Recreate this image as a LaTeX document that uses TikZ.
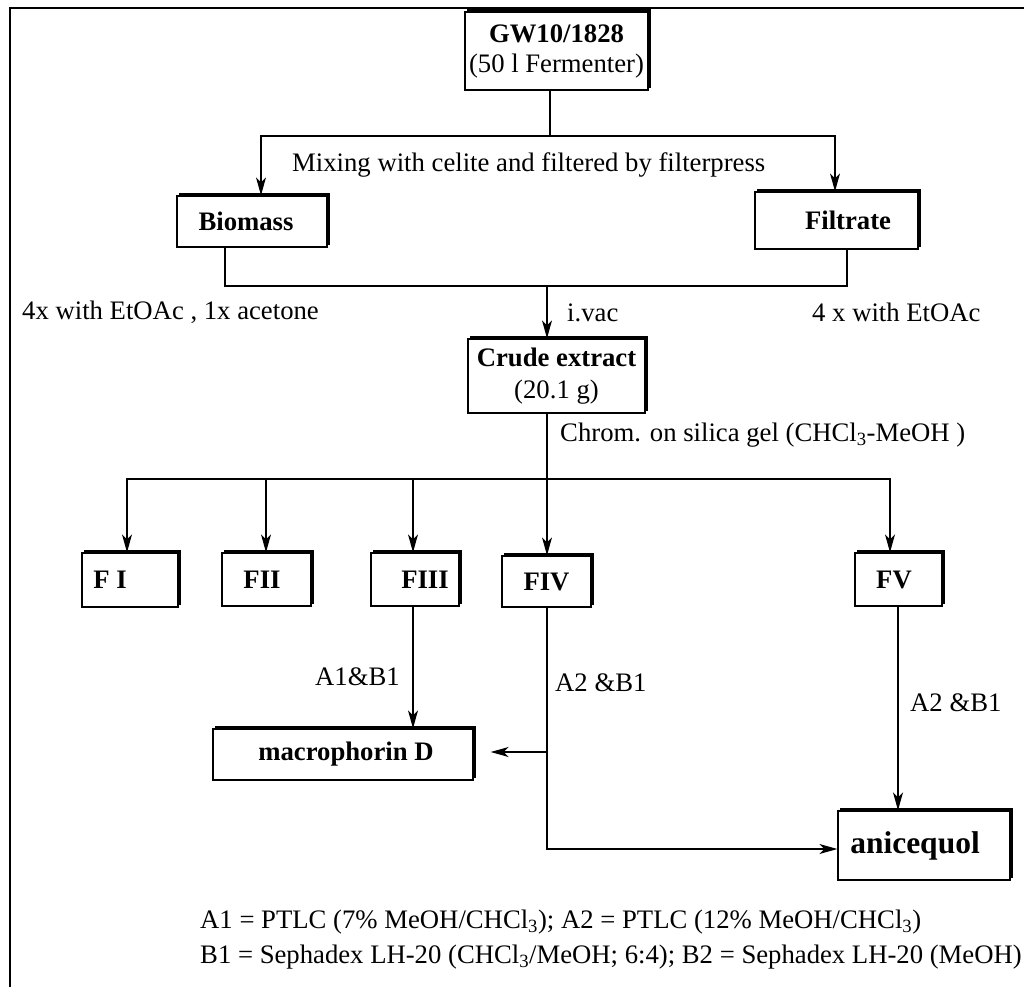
\documentclass[tikz,border=0pt]{standalone}
\usepackage{fontspec}
\setmainfont{Liberation Serif}
\usetikzlibrary{arrows.meta}
\begin{document}
\begin{tikzpicture}[x=1pt,y=-1pt,
  every node/.style={font=\fontsize{26.7}{31}\selectfont, inner sep=0pt},
  box/.style={draw, line width=1.3pt, font=\fontsize{26.7}{30}\selectfont\bfseries, align=center},
  conn/.style={line width=1.3pt},
  arr/.style={conn, -{Stealth[length=18pt,width=10pt,inset=5pt]}},
  lbl/.style={anchor=west},
  shadowline/.style={line width=3pt}
]
\useasboundingbox (0,0) rectangle (1024,987);
% frame
\draw[line width=2.5pt] (10,987) -- (10,8) -- (1024,8);

% boxes
\node[box, minimum width=183pt, minimum height=78pt] (gw) at (556.5,51) {GW10/1828\\{\mdseries (50 l Fermenter)}};
\node[box, minimum width=150pt, minimum height=51pt] (biomass) at (252,221.5) {Biomass\hspace*{12pt}};
\node[box, minimum width=163pt, minimum height=57pt] (filtrate) at (836.5,220.5) {\hspace*{23pt}Filtrate};
\node[box, minimum width=177pt, minimum height=74pt] (crude) at (556.5,376) {Crude extract\\[2pt]{\mdseries (20.1 g)}};
\node[box, minimum width=96pt, minimum height=54pt] (f1) at (130,580) {F I\hspace*{40pt}};
\node[box, minimum width=89pt, minimum height=53pt] (f2) at (266.5,579.5) {FII\hspace*{9pt}};
\node[box, minimum width=88pt, minimum height=53pt] (f3) at (415,579.5) {\hspace*{20pt}FIII};
\node[box, minimum width=89pt, minimum height=51pt] (f4) at (546.5,581.5) {FIV};
\node[box, minimum width=87pt, minimum height=53pt] (f5) at (898.5,579.5) {FV\hspace*{9pt}};
\node[box, minimum width=260pt, minimum height=51pt] (macro) at (343,754.5) {\hspace*{6pt}macrophorin D};
\node[box, minimum width=172pt, minimum height=69pt, font=\fontsize{31.5}{34}\selectfont\bfseries] (anice) at (924,845.5) {anicequol\hspace*{18pt}};

% shadows on top and right edges
\foreach \n in {gw,biomass,filtrate,crude,f1,f2,f3,f4,f5,macro,anice}
  \draw[shadowline] ([xshift=3pt,yshift=1pt]\n.north west) -- ([xshift=1pt,yshift=1pt]\n.north east) -- ([xshift=1pt,yshift=3pt]\n.south east);

% connectors
\coordinate (j1) at (550,136);
\draw[conn] ([xshift=-6.5pt]gw.south) -- (j1);
\draw[arr] (j1) -| ([xshift=9pt]biomass.north);
\draw[arr] (j1) -| ([xshift=-1.5pt]filtrate.north);

\coordinate (j2) at (547,286);
\draw[conn] ([xshift=-27pt]biomass.south) |- (j2);
\draw[conn] ([xshift=10.5pt]filtrate.south) |- (j2);
\draw[arr] (j2) -- ([xshift=-9.5pt]crude.north);

\coordinate (j3) at (547,479);
\draw[conn] ([xshift=-9.5pt]crude.south) -- (j3);
\draw[arr] (j3) -| ([xshift=-3pt]f1.north);
\draw[arr] (j3) -| ([xshift=-0.5pt]f2.north);
\draw[arr] (j3) -| ([xshift=-2pt]f3.north);
\draw[arr] (j3) -- ([xshift=0.5pt]f4.north);
\draw[arr] (j3) -| ([xshift=-8.5pt]f5.north);

\draw[arr] ([xshift=-2pt]f3.south) -- ([xshift=70pt]macro.north);
\coordinate (j4) at (547,752);
\draw[conn] ([xshift=0.5pt]f4.south) -- (j4);
\draw[arr, shorten >=17pt] (j4) -- (macro.east |- j4);
\draw[arr] (j4) |- ([yshift=-3.5pt]anice.west);
\draw[arr] ([xshift=-0.5pt]f5.south) -- ([xshift=-26pt]anice.north);

% labels
\node[lbl] (mix) at (292,165) {Mixing with celite and filtered by filterpress};
\node[lbl] (bioext) at (22,312) {4x with EtOAc , 1x acetone};
\node[lbl] (filext) at (812,312) {4 x with EtOAc};
\node[lbl] (ivac) at (567,313) {i.vac};
\node[lbl] (chrom) at (560,435) {Chrom. on silica gel (CHCl\textsubscript{3}-MeOH )};
\node[lbl] (lab1) at (315,677) {A1\&B1};
\node[lbl] (lab2) at (555,683) {A2 \&B1};
\node[lbl] (lab3) at (910,703) {A2 \&B1};
\node[lbl] (leg1) at (200,922) {A1 = PTLC (7\% MeOH/CHCl\textsubscript{3}); A2 = PTLC (12\% MeOH/CHCl\textsubscript{3})};
\node[lbl] (leg2) at (200,957) {B1 = Sephadex LH-20 (CHCl\textsubscript{3}/MeOH; 6:4); B2 = Sephadex LH-20 (MeOH)};
\end{tikzpicture}
\end{document}
